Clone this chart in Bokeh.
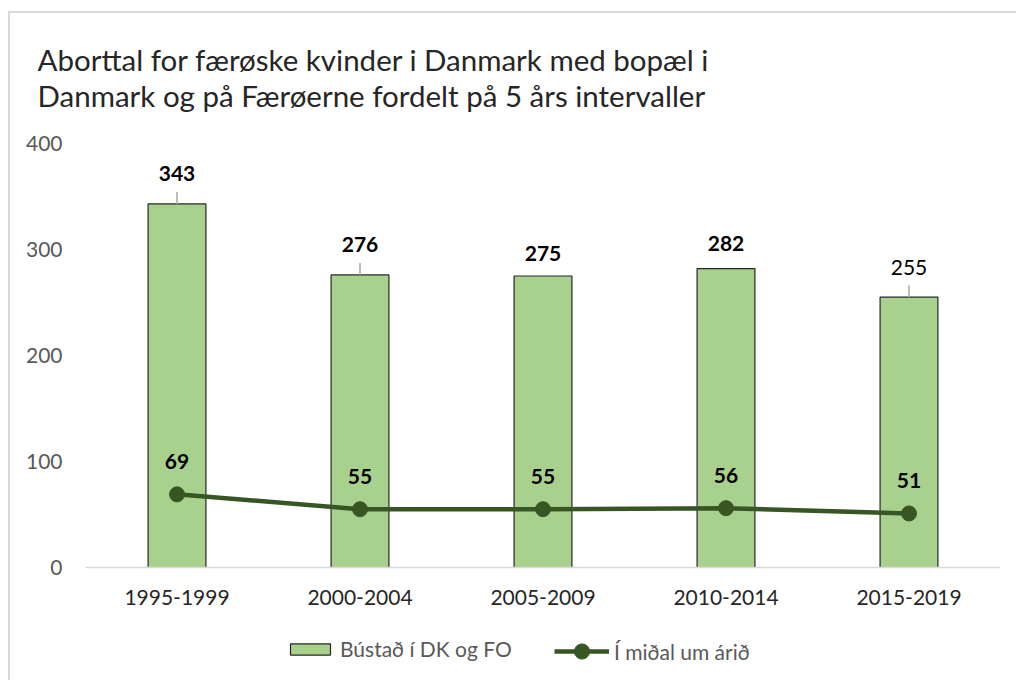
from bokeh.plotting import figure
from bokeh.models import (ColumnDataSource, FactorRange, FixedTicker, Title, Legend,
                          LegendItem, Range1d)
from bokeh.core.properties import value
from bokeh.embed import file_html
from bokeh.resources import INLINE

# ---- data ----
categories = ["1995-1999", "2000-2004", "2005-2009", "2010-2014", "2015-2019"]
total_abortions = [343, 276, 275, 282, 255]
yearly_average = [69, 55, 55, 56, 51]
y_ticks = [0, 100, 200, 300, 400]
title_lines = ["Aborttal for færøske kvinder i Danmark med bopæl i",
               "Danmark og på Færøerne fordelt på 5 års intervaller"]
series_names = ["Bústað í DK og FO", "Í miðal um árið"]

# ---- style / layout ----
FONT = "Lato"
BAR_FILL = "#A9D18E"
LINE_COLOR = "#375623"
bar_label_offsets = [-30, -30, -23, -25, -30]
bar_label_styles = ["bold", "bold", "bold", "bold", "normal"]
leader_flags = [True, True, False, False, True]
W, H = 1016, 680
FRAME_TOP, ZERO_Y = 143, 567          # pixel rows of value 400 and value 0
PX_PER_UNIT = (ZERO_Y - FRAME_TOP) / 400.0
y_start = -(H - ZERO_Y) / PX_PER_UNIT  # extend frame below 0 to hold the legend

p = figure(x_range=FactorRange(*categories, range_padding=0),
           y_range=Range1d(y_start, 400),
           width=W, height=H, output_backend="svg", toolbar_location=None,
           min_border_left=85, min_border_right=16, min_border_top=FRAME_TOP,
           min_border_bottom=0)
p.outline_line_color = None
p.xgrid.grid_line_color = None
p.ygrid.grid_line_color = None
p.background_fill_color = "white"
p.border_fill_alpha = 0
p.styles = {"background":
            "linear-gradient(#D9D9D9,#D9D9D9) 8px 11px / 2px 100% no-repeat,"
            "linear-gradient(#D9D9D9,#D9D9D9) 8px 11px / 100% 2px no-repeat, white"}

bar_src = ColumnDataSource(dict(cat=categories, val=total_abortions,
                                lab=[str(v) for v in total_abortions],
                                off=bar_label_offsets, fs=bar_label_styles))
bars = p.vbar(x="cat", top="val", width=0.316, source=bar_src, fill_color=BAR_FILL,
              line_color="#262626", line_width=1.2)

# leader lines
lc = [c for c, f in zip(categories, leader_flags) if f]
lv = [v for v, f in zip(total_abortions, leader_flags) if f]
p.segment(x0=lc, y0=lv, x1=lc, y1=[v + 12 / PX_PER_UNIT for v in lv],
          line_color="#A6A6A6", line_width=1.5)

p.text(x="cat", y="val", text="lab", source=bar_src, y_offset="off",
       text_align="center", text_baseline="middle", text_font=value(FONT),
       text_font_size="21px", text_font_style="fs", text_color="#000000")

line_src = ColumnDataSource(dict(cat=categories, val=yearly_average,
                                 lab=[str(v) for v in yearly_average]))
ln = p.line(x="cat", y="val", source=line_src, line_color=LINE_COLOR, line_width=4.5)
pts = p.scatter(x="cat", y="val", source=line_src, size=15, fill_color=LINE_COLOR,
                line_color=LINE_COLOR)
p.text(x="cat", y="val", text="lab", source=line_src, y_offset=-33,
       text_align="center", text_baseline="middle", text_font=value(FONT),
       text_font_size="21px", text_font_style="bold", text_color="#000000")

# axes
p.yaxis.ticker = FixedTicker(ticks=y_ticks)
p.yaxis.axis_line_color = None
p.yaxis.major_tick_line_color = None
p.yaxis.minor_tick_line_color = None
p.yaxis.major_tick_out = 0
p.yaxis.major_label_standoff = 23
p.yaxis.major_label_text_font = FONT
p.yaxis.major_label_text_font_size = "21px"
p.yaxis.major_label_text_color = "#595959"

p.xaxis.fixed_location = 0
p.xaxis.axis_line_color = "#D9D9D9"
p.xaxis.axis_line_width = 1.5
p.xaxis.major_tick_line_color = None
p.xaxis.minor_tick_line_color = None
p.xaxis.major_tick_out = 0
p.xaxis.major_label_standoff = 22
p.xaxis.major_label_text_font = FONT
p.xaxis.major_label_text_font_size = "21px"
p.xaxis.major_label_text_color = "#262626"

# title
p.add_layout(Title(text="\n".join(title_lines), align="left", offset=-48, standoff=61,
                   text_font=FONT, text_font_size="29.5px", text_line_height=1.03,
                   text_font_style="normal", text_color="#262626"), "above")

legend_style = dict(orientation="horizontal", label_text_font=FONT,
                    label_text_font_size="21px", label_text_color="#595959",
                    padding=0, margin=0, border_line_color=None,
                    background_fill_alpha=0, label_standoff=5, spacing=0)
legend_bar = Legend(items=[LegendItem(label=series_names[0], renderers=[bars])],
                    location=(200, H - 661), glyph_width=50, glyph_height=14,
                    label_height=20, **legend_style)
legend_line = Legend(items=[LegendItem(label=series_names[1], renderers=[ln, pts])],
                     location=(469, H - 670), glyph_width=55, glyph_height=38,
                     label_height=38, **legend_style)
p.add_layout(legend_bar, "center")
p.add_layout(legend_line, "center")

open("out.html", "w").write(file_html(p, INLINE))
